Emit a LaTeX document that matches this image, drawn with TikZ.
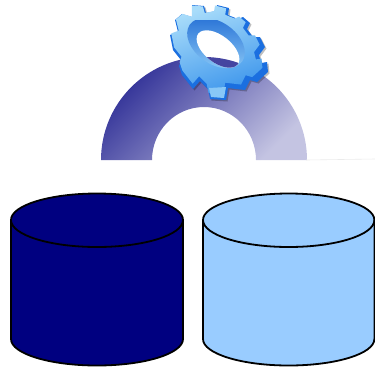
\documentclass[tikz,border=0pt]{standalone}
\usetikzlibrary{shadings}
\definecolor{navyc}{HTML}{000080}
\definecolor{skyc}{HTML}{99CCFF}
\definecolor{archd}{HTML}{2E2E96}
\definecolor{archm}{HTML}{5F5FB0}
\definecolor{archl}{HTML}{C4C4E2}
\definecolor{gearside}{HTML}{1B6FE0}
\definecolor{gearwall}{HTML}{2F78D8}
\definecolor{gearfl}{HTML}{A8DCFA}
\definecolor{gearfd}{HTML}{3F97EC}
\def\gearoutline{(192,5) -- (204,6) -- (206,13) -- (216,11) -- (217,5) -- (229,8) -- (228,15) -- (238,19) -- (243,17) -- (250,23) -- (247,29) -- (253,37) -- (260,37) -- (265,47) -- (259,55) -- (261,63) -- (267,62) -- (268,72) -- (257,82) -- (250,80) -- (245,90) -- (228,88) -- (226,100) -- (210,99) -- (208,89) -- (200,81) -- (193,89) -- (182,75) -- (179,66) -- (181,60) -- (173,50) -- (170,35) -- (178,32) -- (175,20) -- (182,14) -- (192,17) -- cycle}
\def\holeoutline{(218,49) circle[x radius=25,y radius=13.5,rotate=-38]}
\tikzset{
  cyl/.style={draw=black,line width=1.8pt,line join=round},
}
\begin{document}
\begin{tikzpicture}[x=1pt,y=-1pt]
\useasboundingbox (0,0) rectangle (375,368);
% arch
\shade[left color=archd,middle color=archm,right color=archl,shading angle=45]
  (101,160) arc[start angle=180,end angle=360,x radius=103,y radius=103]
  -- (256,160) arc[start angle=0,end angle=-180,x radius=52,y radius=53] -- cycle;
\draw[black!8,line width=.6pt] (306,160) -- (375,159);
% gear shadow
\fill[black,opacity=.25,even odd rule,shift={(1.5,1.5)}] \gearoutline \holeoutline;
% gear side
\fill[gearside,even odd rule] \gearoutline \holeoutline;
% gear face
\begin{scope}[shift={(215,45.5)},scale=.93,shift={(-217,-48)}]
  \shade[top color=gearfl,bottom color=gearfd,shading angle=20] \gearoutline;
\end{scope}
% bottom tooth highlight
\fill[gearfl!70!gearfd] (209,88) -- (226,87) -- (224,98) -- (211,97) -- cycle;
% inner wall
\begin{scope}
  \clip (216,43) circle[x radius=32,y radius=21,rotate=-35];
  \shade[top color=gearwall,bottom color=gearfl!70!gearfd] (180,20) rectangle (255,70);
\end{scope}
% hole: rebuild the background seen through it
\begin{scope}
  \clip \holeoutline;
  \fill[white] (185,20) rectangle (250,75);
  \fill[archd!85!archl]
    (101,160) arc[start angle=180,end angle=360,x radius=103,y radius=103] -- cycle;
\end{scope}
% cylinders
\path[cyl,fill=navyc] (11,220) arc[start angle=180,end angle=360,x radius=86,y radius=26.5]
  -- (183,339) arc[start angle=0,end angle=180,x radius=86,y radius=26.5] -- cycle;
\draw[cyl] (11,220) arc[start angle=180,end angle=0,x radius=86,y radius=27];
\path[cyl,fill=skyc] (203,220) arc[start angle=180,end angle=360,x radius=85.7,y radius=26.5]
  -- (374.4,339) arc[start angle=0,end angle=180,x radius=85.7,y radius=26.5] -- cycle;
\draw[cyl] (203,220) arc[start angle=180,end angle=0,x radius=85.7,y radius=27];
\end{tikzpicture}
\end{document}
